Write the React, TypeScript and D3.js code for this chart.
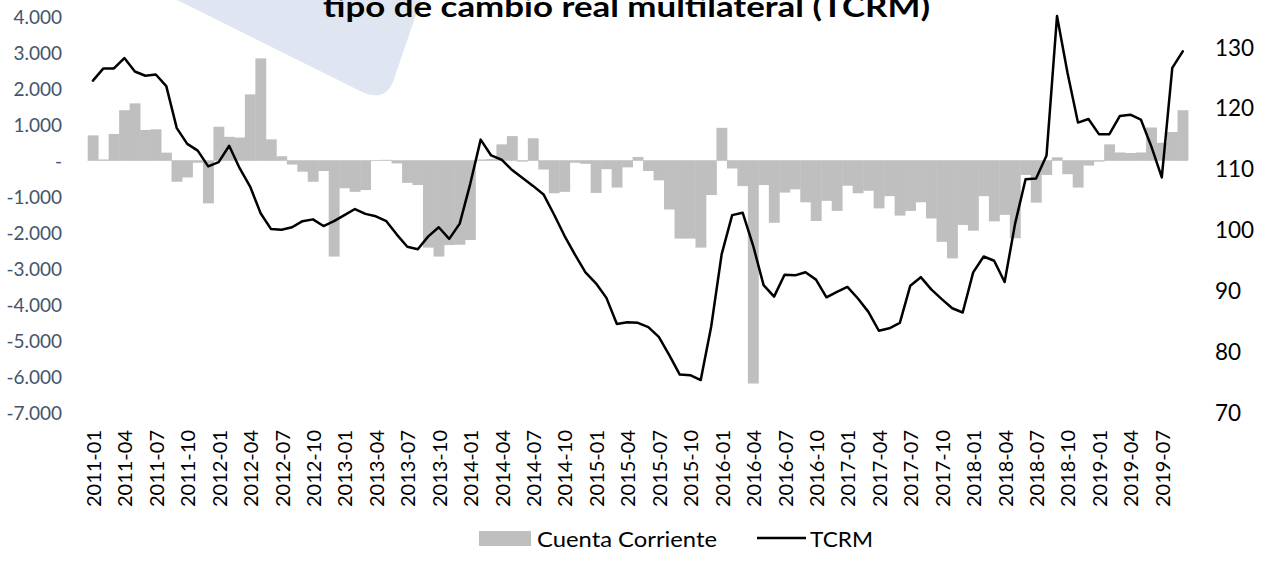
import React from 'react';
import * as d3 from 'd3';

const W = 1261;
const H = 563;

// Monthly categories 2011-01 .. 2019-09
const categories: string[] = d3
  .timeMonths(new Date(2011, 0, 1), new Date(2019, 9, 1))
  .map((d) => d3.timeFormat('%Y-%m')(d));

// Cuenta Corriente (left axis)
const cuentaCorriente: number[] = [
  700, 30, 740, 1400, 1590, 850, 870, 220, -590, -470,
  -60, -1190, 940, 660, 640, 1840, 2840, 590, 120, -110,
  -310, -590, -290, -2670, -770, -870, -820, -10, 20, -80,
  -620, -680, -2420, -2670, -2350, -2340, -2210, 30, 40, 450,
  680, -30, 620, -250, -910, -870, -60, -90, -900, -240,
  -750, -190, 100, -290, -550, -1360, -2170, -2170, -2420, -960,
  910, -220, -710, -6200, -680, -1730, -890, -800, -1160, -1680,
  -1120, -1400, -700, -910, -840, -1330, -990, -1530, -1400, -1160,
  -1610, -2260, -2720, -1790, -1950, -990, -1690, -1510, -2160, -400,
  -1170, -400, 90, -380, -750, -140, -30, 450, 225, 210,
  225, 920, 495, 795, 1400,
];

// TCRM (right axis)
const tcrm: number[] = [
  124.5, 126.5, 126.5, 128.2, 126.0, 125.3, 125.5, 123.6, 116.7, 114.1,
  113.0, 110.4, 111.1, 113.8, 110.1, 107.1, 102.7, 100.1, 100.0, 100.4,
  101.4, 101.7, 100.6, 101.4, 102.4, 103.4, 102.6, 102.2, 101.4, 99.2,
  97.2, 96.8, 98.9, 100.4, 98.5, 101.0, 107.5, 114.8, 112.2, 111.5,
  109.8, 108.5, 107.2, 105.8, 102.5, 99.0, 95.9, 93.0, 91.2, 88.8,
  84.5, 84.8, 84.7, 84.0, 82.4, 79.4, 76.2, 76.1, 75.3, 84.1,
  96.0, 102.4, 102.8, 97.4, 90.9, 89.0, 92.6, 92.5, 93.0, 91.8,
  88.9, 89.8, 90.6, 88.7, 86.5, 83.4, 83.8, 84.7, 90.8, 92.2,
  90.2, 88.6, 87.1, 86.4, 93.0, 95.6, 94.9, 91.4, 101.0, 108.3,
  108.4, 112.2, 135.1, 125.8, 117.6, 118.2, 115.7, 115.7, 118.7, 118.9,
  118.1, 113.7, 108.6, 126.6, 129.3,
];

const leftTicks: number[] = [4000, 3000, 2000, 1000, 0, -1000, -2000, -3000, -4000, -5000, -6000, -7000];
const leftTickLabels: string[] = ['4.000', '3.000', '2.000', '1.000', '-', '-1.000', '-2.000', '-3.000', '-4.000', '-5.000', '-6.000', '-7.000'];
const rightTicks: number[] = [70, 80, 90, 100, 110, 120, 130];
const xTickLabels: string[] = categories.filter((_, i) => i % 3 === 0);

const titleText = 'tipo de cambio real multilateral (TCRM)';
const legendLabels: string[] = ['Cuenta Corriente', 'TCRM'];

const FONT = 'Lato, "Open Sans", "DejaVu Sans", sans-serif';

export default function App() {
  const x = d3.scaleBand<string>().domain(categories).range([87.7, 1188]).paddingInner(0).paddingOuter(0);
  const yL = d3.scaleLinear().domain([-7000, 4000]).range([412.3, 16.7]);
  const yR = d3.scaleLinear().domain([70, 135]).range([412.3, 16.7]);
  const bw = x.bandwidth();

  const linePath = d3
    .line<number>()
    .x((_, i) => (x(categories[i]) as number) + bw / 2)
    .y((v) => yR(v))(tcrm) as string;

  const legendY = 538;

  return (
    <svg
      width={W}
      height={H}
      style={{ position: 'absolute', left: 0, top: 0, display: 'block', background: '#fff' }}
      fontFamily={FONT}
    >
      <rect x={0} y={0} width={W} height={H} fill="#ffffff" />
      {/* watermark shape */}
      <path d="M177,0 L360,91 Q384,103 393,82 L421,0 Z" fill="#dfe5f1" />

      {/* title */}
      <text
        x={323}
        y={17}
        fontSize={29}
        fontWeight="bold"
        fill="#000"
        textLength={607}
        lengthAdjust="spacingAndGlyphs"
      >
        {titleText}
      </text>

      {/* zero axis line */}
      <line x1={x.range()[0]} x2={x.range()[1]} y1={yL(0)} y2={yL(0)} stroke="#d9d9d9" strokeWidth={1} />

      {/* bars */}
      <g fill="#bfbfbf">
        {cuentaCorriente.map((v, i) => (
          <rect
            key={i}
            x={x(categories[i]) as number}
            width={bw + 0.4}
            y={Math.min(yL(v), yL(0))}
            height={Math.abs(yL(v) - yL(0))}
          />
        ))}
      </g>

      {/* line */}
      <path d={linePath} fill="none" stroke="#000" strokeWidth={2.5} strokeLinejoin="round" strokeLinecap="round" />

      {/* left axis labels */}
      <g fontSize={19} fill="#44546a" textAnchor="end">
        {leftTicks.map((t, i) => (
          <text key={t} x={62} y={yL(t)} dominantBaseline="central">
            {leftTickLabels[i]}
          </text>
        ))}
      </g>

      {/* right axis labels */}
      <g fontSize={22.5} fill="#000" textAnchor="start">
        {rightTicks.map((t) => (
          <text key={t} x={1215} y={yR(t)} dominantBaseline="central">
            {t}
          </text>
        ))}
      </g>

      {/* x axis labels */}
      <g fontSize={20} fill="#000" textAnchor="end">
        {xTickLabels.map((c) => {
          const cx = (x(c) as number) + bw / 2;
          return (
            <text key={c} transform={`translate(${cx},430) rotate(-90)`} dominantBaseline="central">
              {c}
            </text>
          );
        })}
      </g>

      {/* legend */}
      <g fontSize={22} fill="#000">
        <rect x={479} y={legendY - 7} width={52} height={15} fill="#bfbfbf" />
        <text x={537} y={legendY} dominantBaseline="central" textLength={180} lengthAdjust="spacingAndGlyphs">
          {legendLabels[0]}
        </text>
        <line x1={757} x2={806} y1={legendY} y2={legendY} stroke="#000" strokeWidth={2.5} />
        <text x={810} y={legendY} dominantBaseline="central" textLength={63} lengthAdjust="spacingAndGlyphs">
          {legendLabels[1]}
        </text>
      </g>
    </svg>
  );
}
